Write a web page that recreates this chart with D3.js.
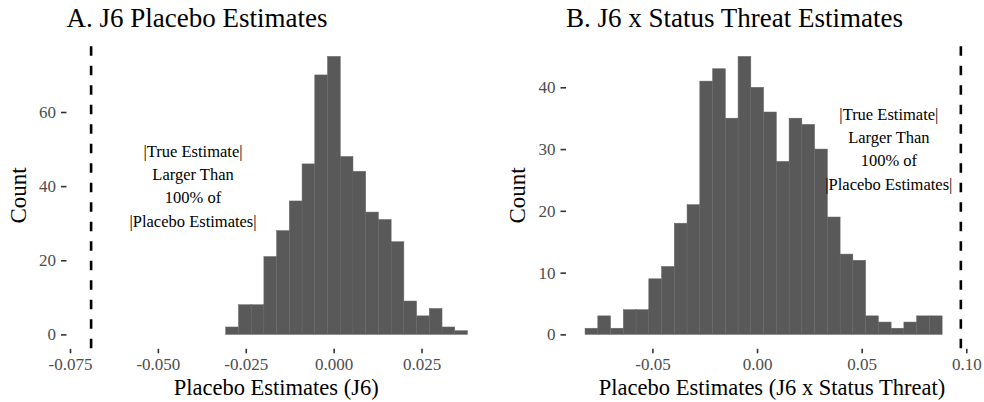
<!DOCTYPE html>
<html>
<head>
<meta charset="utf-8">
<script src="https://cdn.jsdelivr.net/npm/d3@7"></script>
<style>
  html, body { margin: 0; padding: 0; background: #fff; }
  svg text { font-family: "Liberation Serif", "Times New Roman", serif; }
</style>
</head>
<body>
<svg id="chart" width="984" height="402"></svg>
<script>
// ---- Data ----
// Panel A: J6 placebo estimates histogram
const leftBinStart = -0.0307;
const leftBinWidth = 0.00362;
const leftCounts = [2, 8, 8, 21, 28, 36, 46, 70, 75, 48, 44, 33, 31, 25, 9, 5, 7, 2, 1];
const leftTrueEstimate = -0.069;
const leftXTicks = [-0.075, -0.050, -0.025, 0.000, 0.025];
const leftXTickLabels = ["-0.075", "-0.050", "-0.025", "0.000", "0.025"];
const leftYTicks = [0, 20, 40, 60];

// Panel B: J6 x Status Threat placebo estimates histogram
const rightBinStart = -0.0822;
const rightBinWidth = 0.006095;
const rightCounts = [1, 3, 1, 4, 4, 9, 11, 18, 21, 41, 43, 35, 45, 40, 36, 28, 35, 34, 30, 19, 13, 12, 3, 2, 1, 2, 3, 3];
const rightTrueEstimate = 0.0974;
const rightXTicks = [-0.05, 0.00, 0.05, 0.10];
const rightXTickLabels = ["-0.05", "0.00", "0.05", "0.10"];
const rightYTicks = [0, 10, 20, 30, 40];

const annotationLines = ["|True Estimate|", "Larger Than", "100% of", "|Placebo Estimates|"];

const panels = [
  {
    title: "A. J6 Placebo Estimates",
    xTitle: "Placebo Estimates (J6)",
    binStart: leftBinStart, binWidth: leftBinWidth, counts: leftCounts,
    vline: leftTrueEstimate,
    xTicks: leftXTicks, xTickLabels: leftXTickLabels, yTicks: leftYTicks,
    xDomain: [-0.0760, 0.04335], yDomain: [-3.75, 78.75],
    left: 66.5, right: 486,
    annot: { x: -0.040, y: 40 }
  },
  {
    title: "B. J6 x Status Threat Estimates",
    xTitle: "Placebo Estimates (J6 x Status Threat)",
    binStart: rightBinStart, binWidth: rightBinWidth, counts: rightCounts,
    vline: rightTrueEstimate,
    xTicks: rightXTicks, xTickLabels: rightXTickLabels, yTicks: rightYTicks,
    xDomain: [-0.0913, 0.1056], yDomain: [-2.25, 47.25],
    left: 566, right: 978,
    annot: { x: 0.063, y: 30 }
  }
];

const svg = d3.select("#chart");
const panelTop = 42.5, panelBottom = 348.3;

panels.forEach(p => {
  const x = d3.scaleLinear().domain(p.xDomain).range([p.left, p.right]);
  const y = d3.scaleLinear().domain(p.yDomain).range([panelBottom, panelTop]);
  const g = svg.append("g");

  const bins = p.counts.map((c, i) => ({
    x0: p.binStart + i * p.binWidth,
    x1: p.binStart + (i + 1) * p.binWidth,
    count: c
  }));

  g.selectAll("rect.bar").data(bins).enter().append("rect")
    .attr("class", "bar")
    .attr("x", d => x(d.x0))
    .attr("width", d => x(d.x1) - x(d.x0))
    .attr("y", d => y(d.count))
    .attr("height", d => y(0) - y(d.count))
    .attr("fill", "#595959")
    .attr("stroke", "#666666")
    .attr("stroke-width", 0.5);

  // dashed vertical line (true estimate), drawn bottom-up like ggplot
  g.append("line")
    .attr("x1", x(p.vline)).attr("x2", x(p.vline))
    .attr("y1", panelBottom).attr("y2", panelTop)
    .attr("stroke", "#000")
    .attr("stroke-width", 2.6)
    .attr("stroke-dasharray", "9.6,9.9");

  // x axis
  const xAxis = d3.axisBottom(x)
    .tickValues(p.xTicks)
    .tickFormat((d, i) => p.xTickLabels[i])
    .tickSize(4.5).tickPadding(5);
  const xa = g.append("g").attr("transform", `translate(0,${panelBottom + 0.5})`).call(xAxis);
  xa.select(".domain").remove();
  xa.selectAll(".tick line").attr("stroke", "#333").attr("stroke-width", 1.6);
  xa.selectAll(".tick text").attr("fill", "#4d4d4d").style("font-size", "17px")
    .style("font-family", "'Liberation Serif', serif");

  // y axis
  const yAxis = d3.axisLeft(y).tickValues(p.yTicks).tickSize(5.5).tickPadding(5);
  const ya = g.append("g").attr("transform", `translate(${p.left},0)`).call(yAxis);
  ya.select(".domain").remove();
  ya.selectAll(".tick line").attr("stroke", "#333").attr("stroke-width", 1.6);
  ya.selectAll(".tick text").attr("fill", "#4d4d4d").style("font-size", "17px")
    .style("font-family", "'Liberation Serif', serif");

  // title
  g.append("text")
    .attr("x", p.left).attr("y", 26.7)
    .attr("font-size", 27).attr("fill", "#000")
    .text(p.title);

  // x title
  g.append("text")
    .attr("x", (p.left + p.right) / 2).attr("y", 394.5)
    .attr("text-anchor", "middle")
    .attr("font-size", 22.5).attr("fill", "#000")
    .text(p.xTitle);

  // y title
  g.append("text")
    .attr("transform", `translate(${p.left - 41},${(panelTop + panelBottom) / 2}) rotate(-90)`)
    .attr("text-anchor", "middle")
    .attr("font-size", 23).attr("fill", "#000")
    .text("Count");

  // annotation
  const lineH = 23.3;
  const ax = x(p.annot.x), ay = y(p.annot.y);
  const t = g.append("text")
    .attr("text-anchor", "middle")
    .attr("font-size", 16.5).attr("fill", "#000");
  annotationLines.forEach((s, i) => {
    t.append("tspan")
      .attr("x", ax)
      .attr("y", ay + (i - 1.5) * lineH + 5.5)
      .text(s);
  });
});
</script>
</body>
</html>
